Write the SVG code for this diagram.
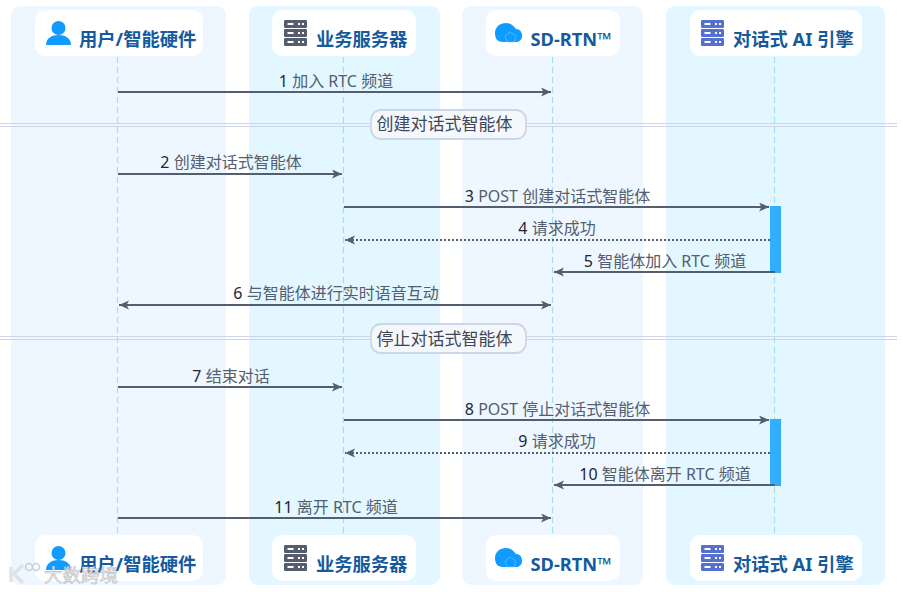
<svg xmlns="http://www.w3.org/2000/svg" width="903" height="592" viewBox="0 0 903 592">
<style>
text{font-family:"Noto Sans","Noto Sans CJK SC",sans-serif}
.head{font-size:18.300px;font-weight:700;fill:#155a9c}
.msg{font-size:16px;fill:#555e6e;text-anchor:middle}
.msg .n{fill:#22262e}
.sep{font-size:17px;fill:#3f4654;text-anchor:middle}
.panelA{fill:#eef7ff}
.panelB{fill:#e2f7ff}
.box{fill:#fff}
.life{stroke:#a8dcf0;stroke-width:1.2;stroke-dasharray:6 4;fill:none}
.arrow{stroke:#555e6e;stroke-width:1.8;fill:none}
.dot{stroke-dasharray:2 2}
.sepline{stroke:#cdd6e6;stroke-width:1;fill:none}
.sepbox{fill:#f4f8fd;stroke:#cdd6e6;stroke-width:1.8}
.act{fill:#33aeff}
</style>
<defs>
<marker id="end" markerUnits="userSpaceOnUse" markerWidth="12" markerHeight="10" refX="10" refY="4.500" orient="auto-start-reverse"><path d="M0 0L10 4.500L0 9L2.500 4.500Z" fill="#555e6e"/></marker>
<g id="i-user"><circle cx="12.500" cy="8" r="7" fill="#0f9bff"/><path d="M0 25C0 18 6 15 12.500 15S25 18 25 25Z" fill="#0f9bff"/></g>
<g id="i-srv"><rect width="23" height="8" y="0" rx="1.200"/><rect width="23" height="8" y="9" rx="1.200"/><rect width="23" height="8" y="18" rx="1.200"/><g fill="#fff"><rect x="3.500" y="3" width="6" height="2"/><rect x="3.500" y="12" width="6" height="2"/><rect x="3.500" y="21" width="6" height="2"/><rect x="14" y="3" width="2" height="2"/><rect x="18" y="3" width="2" height="2"/><rect x="14" y="12" width="2" height="2"/><rect x="18" y="12" width="2" height="2"/><rect x="14" y="21" width="2" height="2"/><rect x="18" y="21" width="2" height="2"/></g></g>
<g id="i-cloud"><path d="M8 19C2 19 0 15 0 10C0 4 5 0 11 0C16 0 19 3 21 6C25 6 27 9 27 13C27 17 24 19 21 19Z" fill="#0f9bff"/><path d="M15 9L21 13L19 19H12L10 13Z" fill="none" stroke="#7cc8ff" stroke-width=".6"/></g>
</defs>

<g id="panels">
<rect class="panelA" x="11" y="6" width="215" height="579" rx="9"/>
<rect class="panelB" x="249" y="6" width="191" height="579" rx="9"/>
<rect class="panelA" x="462" y="6" width="181" height="579" rx="9"/>
<rect class="panelB" x="666" y="6" width="219" height="579" rx="9"/>
</g>

<g id="lifelines">
<path class="life" d="M117.500 57V535"/>
<path class="life" d="M343.500 57V535"/>
<path class="life" d="M552.500 57V535"/>
<path class="life" d="M774.500 57V535"/>
</g>

<g id="sep1">
<path class="sepline" d="M0 123.500H370M0 126.500H370M526 123.500H897M526 126.500H897"/>
<rect class="sepbox" x="371" y="110" width="155" height="29" rx="10"/>
<text class="sep" x="444.500" y="130">创建对话式智能体</text>
</g>
<g id="sep2">
<path class="sepline" d="M0 336.500H370M0 339.500H370M526 336.500H897M526 339.500H897"/>
<rect class="sepbox" x="371" y="324" width="155" height="29" rx="10"/>
<text class="sep" x="444.500" y="345">停止对话式智能体</text>
</g>

<g id="activations">
<rect class="act" x="770" y="206" width="11" height="67"/>
<rect class="act" x="770" y="419" width="11" height="67"/>
</g>

<g id="connectors">
<path class="arrow" marker-end="url(#end)" d="M118 92H551"/>
<path class="arrow" marker-end="url(#end)" d="M118 174H342"/>
<path class="arrow" marker-end="url(#end)" d="M344 207H769"/>
<path class="arrow dot" marker-end="url(#end)" d="M770 240H345"/>
<path class="arrow" marker-end="url(#end)" d="M775 272H554"/>
<path class="arrow" marker-start="url(#end)" marker-end="url(#end)" d="M119 305H551"/>
<path class="arrow" marker-end="url(#end)" d="M118 387H342"/>
<path class="arrow" marker-end="url(#end)" d="M344 420H769"/>
<path class="arrow dot" marker-end="url(#end)" d="M770 453H345"/>
<path class="arrow" marker-end="url(#end)" d="M775 485H554"/>
<path class="arrow" marker-end="url(#end)" d="M118 518H551"/>
</g>

<g id="labels">
<text class="msg" x="336" y="87"><tspan class="n">1</tspan> 加入 RTC 频道</text>
<text class="msg" x="231" y="168"><tspan class="n">2</tspan> 创建对话式智能体</text>
<text class="msg" x="557.500" y="202"><tspan class="n">3</tspan> POST 创建对话式智能体</text>
<text class="msg" x="557" y="234"><tspan class="n">4</tspan> 请求成功</text>
<text class="msg" x="665" y="267"><tspan class="n">5</tspan> 智能体加入 RTC 频道</text>
<text class="msg" x="336" y="299"><tspan class="n">6</tspan> 与智能体进行实时语音互动</text>
<text class="msg" x="231" y="382"><tspan class="n">7</tspan> 结束对话</text>
<text class="msg" x="557.500" y="415"><tspan class="n">8</tspan> POST 停止对话式智能体</text>
<text class="msg" x="557" y="447"><tspan class="n">9</tspan> 请求成功</text>
<text class="msg" x="665" y="480"><tspan class="n">10</tspan> 智能体离开 RTC 频道</text>
<text class="msg" x="336" y="513"><tspan class="n">11</tspan> 离开 RTC 频道</text>
</g>

<g id="node-user-top"><rect class="box" x="35" y="10" width="168" height="46" rx="10"/><use href="#i-user" x="46" y="20"/><text class="head" x="79" y="45.500">用户/智能硬件</text></g>
<g id="node-biz-top"><rect class="box" x="272" y="10" width="144" height="46" rx="10"/><use href="#i-srv" x="284" y="20" fill="#555e6e"/><text class="head" x="316" y="45.500">业务服务器</text></g>
<g id="node-rtn-top"><rect class="box" x="486" y="10" width="134" height="46" rx="10"/><use href="#i-cloud" x="495" y="23"/><text class="head" x="530.500" y="45.500">SD-RTN™</text></g>
<g id="node-ai-top"><rect class="box" x="690" y="10" width="172" height="46" rx="10"/><use href="#i-srv" x="701" y="20" fill="#5470d0"/><text class="head" x="733" y="45.500">对话式 AI 引擎</text></g>

<g id="node-user-bottom"><rect class="box" x="35" y="535" width="168" height="46" rx="10"/><use href="#i-user" x="46" y="545"/><text class="head" x="79" y="570.500">用户/智能硬件</text></g>
<g id="node-biz-bottom"><rect class="box" x="272" y="535" width="144" height="46" rx="10"/><use href="#i-srv" x="284" y="545" fill="#555e6e"/><text class="head" x="316" y="570.500">业务服务器</text></g>
<g id="node-rtn-bottom"><rect class="box" x="486" y="535" width="134" height="46" rx="10"/><use href="#i-cloud" x="495" y="548"/><text class="head" x="530.500" y="570.500">SD-RTN™</text></g>
<g id="node-ai-bottom"><rect class="box" x="690" y="535" width="172" height="46" rx="10"/><use href="#i-srv" x="701" y="545" fill="#5470d0"/><text class="head" x="733" y="570.500">对话式 AI 引擎</text></g>

<g id="watermark" fill="none">
<path d="M11 567V582M23 565L14 574L23 583" stroke-width="3.500" stroke="#dfe3e7"/>
<circle cx="29" cy="567" r="3.500" stroke="#c9ced4" stroke-width="1.500"/><circle cx="36" cy="567" r="3.500" stroke="#c9ced4" stroke-width="1.500"/>
<text x="44" y="582" font-size="18.500" fill="#eceef0" stroke="#b9bfc6" stroke-width=".6">大数跨境</text>
</g>
</svg>
